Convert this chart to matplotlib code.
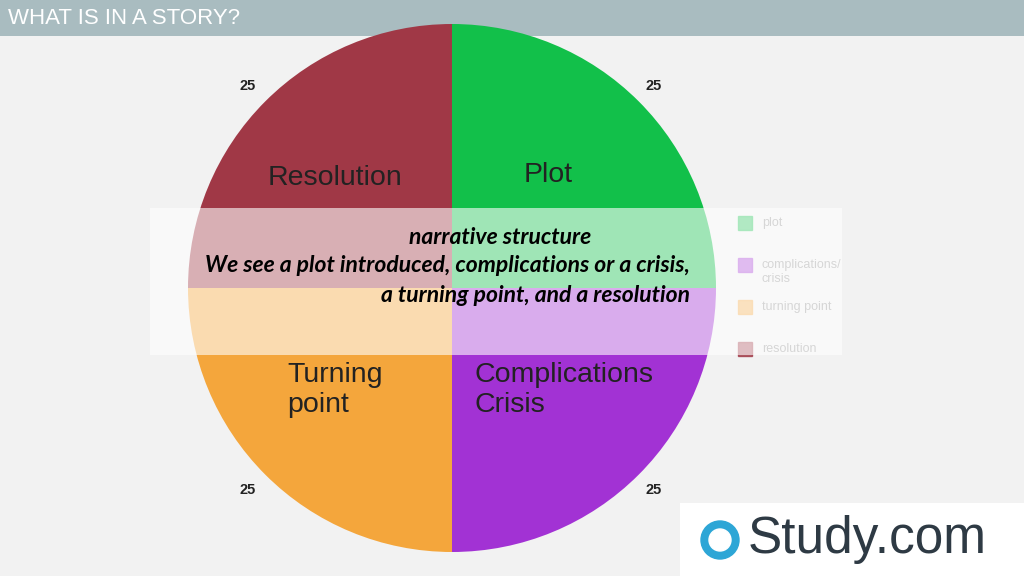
import matplotlib

matplotlib.use("Agg")
import matplotlib.pyplot as plt
from matplotlib.patches import Rectangle, Circle

H = 576
labels = ["Plot", "Complications\nCrisis", "Turning\npoint", "Resolution"]
legend_labels = ["plot", "complications/\ncrisis", "turning point", "resolution"]
values = [25, 25, 25, 25]
colors = ["#12c04a", "#a232d4", "#f4a63c", "#a03846"]

plt.rcParams["font.family"] = ["Liberation Sans", "DejaVu Sans"]
fig = plt.figure(figsize=(10.24, 5.76), dpi=100)
fig.patch.set_facecolor("#f2f2f2")
ax = fig.add_axes([0, 0, 1, 1])

# title bar (behind pie)
ax.add_patch(Rectangle((0, H - 36), 1024, 36, color="#a9bcc0", lw=0, zorder=0))
ax.text(8, H - 19, "WHAT IS IN A STORY?", fontsize=16, color="white", va="center", zorder=0)

wedges, _ = ax.pie(values, colors=colors, startangle=90, counterclock=False,
                   center=(452, H - 288), radius=264, frame=True)

# segment labels
inner = [(548, 175, "center"), (474, 390, "left"), (287, 390, "left"), (268, 178, "left")]
for (x, y, ha), lab in zip(inner, labels):
    ax.text(x, H - y, lab, fontsize=20.5, ha=ha, va="center", color="#222222", linespacing=1.2)

# value labels
for x, y, v in [(654, 86, values[0]), (654, 490, values[1]), (248, 490, values[2]), (248, 86, values[3])]:
    ax.text(x, H - y, str(v), fontsize=10.5, fontweight="bold", ha="center", va="center", color="#222222")

# legend
for i, (lab, c) in enumerate(zip(legend_labels, colors)):
    y = 223 + i * 42
    ax.add_patch(Rectangle((738, H - y - 7), 14, 14, color=c, alpha=0.8))
    ax.text(762, H - y - (7 if "\n" in lab else 0), lab, fontsize=9, color="#999999",
            va="center", zorder=1)

# translucent overlay with caption
ax.add_patch(Rectangle((150, H - 355), 692, 147, color="white", alpha=0.6, lw=0, zorder=3))
cap = dict(fontsize=16.5, fontweight="bold", style="italic", family="Lato", color="black",
           va="center", zorder=4)
ax.text(500, H - 237, "narrative structure", ha="center", **cap)
ax.text(690, H - 266, "We see a plot introduced, complications or a crisis,", ha="right", **cap)
ax.text(690, H - 295, "a turning point, and a resolution", ha="right", **cap)

# logo box
ax.add_patch(Rectangle((680, 0), 344, H - 503, color="white", lw=0, zorder=5))
ax.add_patch(Circle((720, H - 540), 19, color="#2da6d6", zorder=6))
ax.add_patch(Circle((720, H - 540), 11, color="white", zorder=6))
ax.text(748, H - 540, "Study.com", fontsize=37, color="#2e3a44", va="center", ha="left", zorder=6)

ax.set_xlim(0, 1024)
ax.set_ylim(0, H)
ax.set_aspect("auto")
ax.axis("off")
fig.savefig("out.png", dpi=100)
